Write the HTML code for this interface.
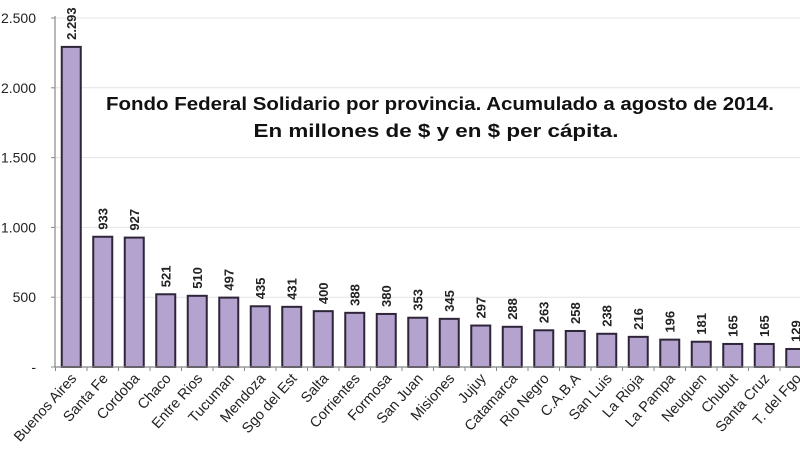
<!DOCTYPE html>
<html><head><meta charset="utf-8"><style>
body{margin:0;background:#fff;}
svg{display:block;font-family:"Liberation Sans",sans-serif;}
</style></head><body>
<svg id="chart" width="800" height="450">
<g id="grid"></g><g id="bars"></g><g id="axes"></g>
<text x="440" y="110" text-anchor="middle" font-size="18" font-weight="bold" fill="#111" textLength="668" lengthAdjust="spacingAndGlyphs">Fondo Federal Solidario por provincia. Acumulado a agosto de 2014.</text>
<text x="436" y="137" text-anchor="middle" font-size="18" font-weight="bold" fill="#111" textLength="365" lengthAdjust="spacingAndGlyphs">En millones de $ y en $ per cápita.</text>
</svg>
<script>
const categories=["Buenos Aires","Santa Fe","Cordoba","Chaco","Entre Rios","Tucuman","Mendoza","Sgo del Est","Salta","Corrientes","Formosa","San Juan","Misiones","Jujuy","Catamarca","Rio Negro","C.A.B.A","San Luis","La Rioja","La Pampa","Neuquen","Chubut","Santa Cruz","T. del Fgo"];
const values=[2293,933,927,521,510,497,435,431,400,388,380,353,345,297,288,263,258,238,216,196,181,165,165,129];
const valueLabels=["2.293","933","927","521","510","497","435","431","400","388","380","353","345","297","288","263","258","238","216","196","181","165","165","129"];
const ticks=[0,500,1000,1500,2000,2500];
const tickLabels=["-","500","1.000","1.500","2.000","2.500"];
const NS="http://www.w3.org/2000/svg";
const x0=55.5,step=31.5,y0=367,yTop=18,vmax=2500;
const y=v=>y0-(y0-yTop)*v/vmax;
const xc=i=>x0+step*(i+0.5);
function mk(t,a,p){const e=document.createElementNS(NS,t);for(const k in a)e.setAttribute(k,a[k]);p.appendChild(e);return e;}
const grid=document.getElementById('grid'),bars=document.getElementById('bars'),axes=document.getElementById('axes');
ticks.forEach((t,i)=>{
 if(t>0){const g=mk('line',{x1:56,x2:800,y1:y(t),y2:y(t),stroke:'#e4e4e4','stroke-width':1},grid);
 
 }
 const l=mk('text',{x:36,y:y(t)+5,'text-anchor':'end','font-size':14,fill:'#222'},axes);l.textContent=tickLabels[i];
 
 
 const tk=mk('line',{x1:51,x2:55,y1:y(t),y2:y(t),stroke:'#888'},axes);
 
 
});
const ya=mk('line',{x1:55,x2:55,y1:y0,y2:16,stroke:'#888','stroke-width':1.2},axes);


const xa=mk('line',{x1:55,x2:800,y1:y0,y2:y0,stroke:'#888','stroke-width':1.2},axes);


values.forEach((v,i)=>{
 const cx=xc(i),w=19;
 const r=mk('rect',{x:cx-w/2,y:y(v),width:w,height:y0-y(v),fill:'#b4a2cf',stroke:'#2e2538','stroke-width':2},bars);
 
 
 const vl=mk('text',{transform:`translate(${cx+4.5},${y(v)-7}) rotate(-90)`,'font-size':13,'font-weight':'bold',fill:'#222'},bars);
 vl.textContent=valueLabels[i];
 
 
 const tk=mk('line',{x1:x0+step*i,x2:x0+step*i,y1:y0,y2:y0+4,stroke:'#888'},axes);
 
 
 const cl=mk('text',{transform:`translate(${cx+6},${y0+12}) rotate(-48)`,'text-anchor':'end','font-size':14.5,fill:'#222'},axes);
 cl.textContent=categories[i];
 
 
});
</script>
</body></html>
